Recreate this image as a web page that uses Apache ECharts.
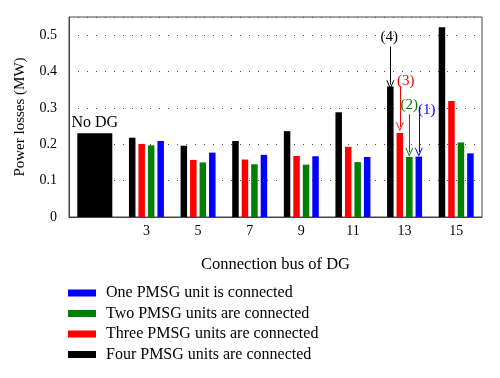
<!DOCTYPE html>
<html>
<head>
<meta charset="utf-8">
<script src="https://cdn.jsdelivr.net/npm/echarts@6/dist/echarts.min.js"></script>
<style>
  html, body { margin: 0; padding: 0; background: #fff; }
  #chart { width: 500px; height: 378px; }
</style>
</head>
<body>
<div id="chart"></div>
<script>
// categories (first slot is the "No DG" base case)
const buses = ['No DG', '3', '5', '7', '9', '11', '13', '15'];
const noDG = [0.23, '-', '-', '-', '-', '-', '-', '-'];
const fourUnits = ['-', 0.218, 0.196, 0.209, 0.236, 0.288, 0.359, 0.522];
const threeUnits = ['-', 0.201, 0.157, 0.158, 0.168, 0.193, 0.231, 0.319];
const twoUnits = ['-', 0.197, 0.150, 0.145, 0.144, 0.151, 0.165, 0.205];
const oneUnit = ['-', 0.209, 0.177, 0.171, 0.167, 0.165, 0.166, 0.175];
const yTicks = [0, 0.1, 0.2, 0.3, 0.4, 0.5];

// arrows pointing at bus 13: [label, from, to]
const arrowBus = '13';
const arrows = {
  four: ['(4)', 0.469, 0.364],
  three: ['(3)', 0.36, 0.248],
  two: ['(2)', 0.283, 0.178],
  one: ['(1)', 0.283, 0.178]
};

const font = 'Liberation Serif';
const chevron = 'path://M0,10 L5,0 L10,10 L8.8,10 L5,2.4 L1.2,10 Z';

function arrowLine(a, color, offset) {
  return {
    silent: true,
    symbol: ['none', chevron],
    symbolSize: [8, 9],
    lineStyle: { color: color, type: 'solid', width: 1 },
    label: {
      show: true, position: 'start', formatter: a[0], distance: 2,
      color: color, fontFamily: font, fontSize: 15, offset: offset
    },
    emphasis: { disabled: true },
    data: [[{ coord: [arrowBus, a[1]] }, { coord: [arrowBus, a[2]] }]]
  };
}

const chart = echarts.init(document.getElementById('chart'));

function barSeries(name, data, color, arrow, offset) {
  return {
    name: name,
    type: 'bar',
    data: data,
    barWidth: 6.5,
    barGap: '46%',
    itemStyle: { color: color },
    markLine: arrowLine(arrow, color, offset)
  };
}

chart.setOption({
  animation: false,
  textStyle: { fontFamily: font, color: '#000' },
  grid: {
    left: 69, right: 18, top: 17, bottom: 161,
    show: true, borderColor: '#444', borderWidth: 1, backgroundColor: 'transparent'
  },
  legend: {
    orient: 'vertical',
    left: 68, top: 285,
    padding: 0,
    itemWidth: 28, itemHeight: 7, itemGap: 4.5,
    icon: 'rect',
    textStyle: { fontFamily: font, fontSize: 16, color: '#000', padding: [0, 0, 0, 5] },
    data: [
      'One PMSG unit is connected',
      'Two PMSG units are connected',
      'Three PMSG units are connected',
      'Four PMSG units are connected'
    ]
  },
  xAxis: [{
    type: 'category',
    data: buses,
    name: 'Connection bus of DG',
    nameLocation: 'middle',
    nameGap: 39,
    nameMoveOverlap: false,
    nameTextStyle: { fontFamily: font, fontSize: 16.5, color: '#000' },
    axisLine: { lineStyle: { color: '#444' } },
    axisTick: { inside: true, alignWithLabel: true, length: 4, lineStyle: { color: '#444' } },
    axisLabel: {
      fontFamily: font, fontSize: 14, color: '#000', margin: 7,
      formatter: function (v) { return v === 'No DG' ? '' : v; }
    }
  }, {
    type: 'category',
    data: buses,
    position: 'top',
    axisLine: { show: false },
    axisTick: { inside: true, alignWithLabel: true, length: 4, lineStyle: { color: '#444' } },
    axisLabel: { show: false }
  }],
  yAxis: {
    type: 'value',
    min: 0, max: 0.55, interval: 0.1,
    name: 'Power losses (MW)',
    nameLocation: 'middle',
    nameGap: 41,
    nameMoveOverlap: false,
    nameTextStyle: { fontFamily: font, fontSize: 15, color: '#000' },
    axisLine: { show: true, lineStyle: { color: '#444' } },
    axisTick: { show: false },
    axisLabel: {
      fontFamily: font, fontSize: 14, color: '#000', margin: 12, showMaxLabel: false,
      formatter: function (v) { return yTicks.indexOf(Math.round(v * 10) / 10) >= 0 ? String(Math.round(v * 10) / 10) : ''; }
    },
    splitLine: { lineStyle: { color: '#555', type: [1, 8], width: 1 } }
  },
  series: [
    barSeries('Four PMSG units are connected', fourUnits, '#000000', arrows.four, [-1, 0]),
    barSeries('Three PMSG units are connected', threeUnits, '#ff0000', arrows.three, [6, 4]),
    barSeries('Two PMSG units are connected', twoUnits, '#007f00', arrows.two, [0, 0]),
    barSeries('One PMSG unit is connected', oneUnit, '#0000ff', arrows.one, [8, 5]),
    {
      name: 'No DG',
      type: 'bar',
      xAxisIndex: 1,
      data: noDG,
      barWidth: 35,
      itemStyle: { color: '#000' },
      label: {
        show: true, position: 'top', distance: 3,
        formatter: '{a}', fontFamily: font, fontSize: 16, color: '#000'
      }
    }
  ]
});
</script>
</body>
</html>
